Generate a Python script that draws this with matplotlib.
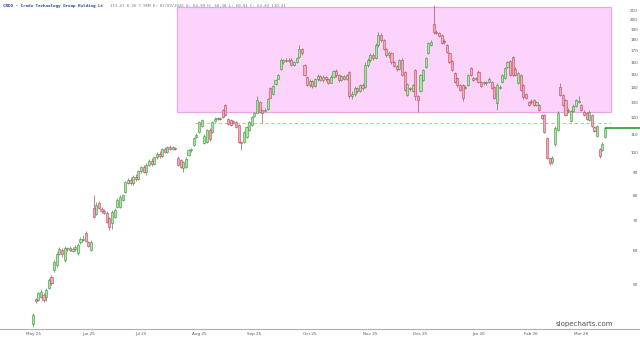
import matplotlib
matplotlib.use("Agg")
import matplotlib.pyplot as plt
from matplotlib.patches import Rectangle
import numpy as np
import pandas as pd

# --- daily OHLC for CRDO ---
start_date = "2025-05-01"
nyse_holidays = ["2025-05-26", "2025-06-19", "2025-07-04", "2025-09-01", "2025-11-27",
                 "2025-12-25", "2026-01-01", "2026-01-19", "2026-02-16"]

opens = [
    40.8, 46.4, 46.2, 47.0, 47.4, 46.9, 49.2, 52.1, 54.0, 55.5,
    58.9, 60.0, 56.9, 60.2, 60.6, 59.8, 60.4, 59.0, 62.5, 63.3,
    65.6, 62.6, 60.0, 74.8, 72.6, 76.7, 74.4, 73.6, 72.8, 71.0,
    69.2, 71.4, 75.1, 75.1, 78.0, 81.3, 85.2, 86.6, 85.0, 88.0,
    87.0, 90.5, 92.4, 90.2, 93.8, 95.5, 94.0, 97.6, 99.0, 98.0,
    101.5, 100.4, 102.8, 102.0, 102.4, 97.1, 96.1, 92.2, 92.6, 98.6,
    101.0, 103.9, 108.6, 111.0, 114.8, 105.0, 105.6, 112.4, 111.2, 117.6,
    119.0, 119.5, 124.8, 128.1, 119.0, 118.4, 117.6, 117.0, 115.4, 105.6,
    105.6, 108.4, 112.4, 115.4, 121.0, 123.0, 130.2, 124.8, 124.2, 125.5,
    140.3, 135.6, 143.0, 147.0, 154.5, 160.0, 162.0, 161.0, 162.4, 158.0,
    160.5, 165.0, 172.0, 157.9, 148.0, 142.2, 145.0, 141.5, 146.5, 149.0,
    146.0, 148.0, 146.5, 144.0, 148.5, 153.0, 149.5, 146.0, 149.0, 147.0,
    152.0, 134.0, 136.0, 140.0, 138.0, 142.0, 141.0, 158.0, 162.0, 166.0,
    164.0, 175.0, 185.0, 180.0, 172.0, 166.0, 168.0, 160.0, 157.0, 155.0,
    162.1, 152.0, 135.0, 140.0, 137.8, 153.8, 134.3, 137.8, 146.0, 156.3,
    168.1, 175.5, 195.6, 188.0, 187.0, 184.7, 179.0, 175.3, 168.2, 161.0,
    151.4, 147.5, 142.2, 142.2, 140.0, 142.2, 155.5, 147.5, 147.0, 152.6,
    144.6, 143.5, 144.2, 144.4, 144.6, 141.0, 129.4, 140.0, 144.6, 147.5,
    156.3, 161.0, 164.4, 155.0, 143.8, 149.9, 142.2, 135.7, 130.2, 130.8,
    131.5, 128.1, 128.1, 121.6, 121.6, 107.8, 97.1, 95.0, 104.5, 112.4,
    141.0, 135.0, 131.5, 124.0, 117.8, 124.0, 127.4, 130.2, 128.1, 123.6,
    122.9, 118.4, 121.6, 114.2, 109.0, 101.8, 101.2, 108.4,
]
highs = [
    43.2, 46.8, 48.3, 48.9, 47.9, 49.2, 51.8, 52.6, 57.0, 59.5,
    61.0, 60.6, 61.2, 61.0, 61.3, 61.0, 61.5, 62.2, 64.2, 64.8,
    66.2, 63.0, 63.2, 80.0, 77.0, 77.5, 75.2, 74.2, 73.4, 71.4,
    73.8, 74.6, 78.6, 79.8, 80.6, 86.2, 87.4, 87.8, 88.6, 89.5,
    91.2, 93.2, 93.6, 94.5, 96.4, 97.0, 98.2, 100.0, 100.5, 102.4,
    102.8, 103.5, 104.0, 103.4, 103.0, 98.0, 96.8, 95.8, 97.5, 101.8,
    102.4, 108.6, 110.4, 118.0, 119.0, 110.0, 113.0, 113.6, 118.0, 120.0,
    120.4, 120.6, 125.5, 129.0, 119.5, 118.9, 118.2, 117.6, 116.2, 106.2,
    112.0, 115.0, 118.0, 120.8, 123.6, 134.0, 131.0, 125.5, 125.8, 133.0,
    141.0, 142.5, 147.0, 151.0, 163.5, 163.2, 163.5, 163.5, 163.4, 161.5,
    165.0, 175.0, 173.0, 159.0, 149.0, 146.5, 146.0, 147.5, 150.5, 150.0,
    149.5, 149.0, 147.5, 149.5, 154.0, 154.5, 150.5, 150.0, 150.0, 151.0,
    153.0, 138.0, 141.5, 141.0, 143.0, 143.5, 160.0, 164.0, 168.0, 168.0,
    177.0, 188.0, 187.0, 181.0, 173.0, 170.0, 169.0, 161.0, 158.0, 163.0,
    163.5, 153.0, 144.0, 141.0, 143.0, 155.0, 135.0, 151.0, 155.0, 165.0,
    178.0, 180.0, 216.0, 189.5, 188.0, 185.5, 180.5, 176.0, 169.0, 162.0,
    152.0, 148.0, 143.0, 143.0, 142.0, 151.0, 156.5, 148.5, 148.5, 153.5,
    145.5, 145.5, 145.0, 148.0, 145.5, 141.8, 143.5, 142.0, 151.0, 156.5,
    161.5, 162.0, 165.5, 156.0, 152.5, 150.8, 143.0, 136.5, 131.0, 132.0,
    132.0, 131.0, 129.0, 122.5, 122.5, 108.5, 97.8, 98.0, 114.5, 124.0,
    144.0, 135.8, 132.2, 126.0, 125.0, 128.5, 132.5, 134.0, 129.0, 124.5,
    123.8, 124.5, 122.5, 115.0, 115.5, 102.5, 105.5, 114.0,
]
lows = [
    40.1, 45.6, 45.9, 46.6, 45.7, 46.0, 48.9, 50.0, 53.5, 55.0,
    58.5, 58.0, 56.5, 59.6, 59.6, 59.3, 59.8, 58.6, 62.0, 63.0,
    62.6, 61.0, 59.6, 70.8, 72.0, 74.2, 73.0, 72.3, 69.0, 66.7,
    67.0, 70.8, 74.6, 74.6, 77.5, 80.9, 84.7, 84.2, 84.5, 86.2,
    86.6, 89.8, 89.6, 89.0, 93.0, 93.2, 93.5, 96.8, 97.2, 97.6,
    99.8, 99.9, 101.0, 101.4, 101.0, 93.0, 92.0, 90.4, 92.0, 98.0,
    100.4, 103.4, 108.0, 110.4, 114.2, 104.3, 105.0, 106.2, 110.5, 117.0,
    118.2, 118.4, 119.5, 121.0, 115.6, 114.8, 116.2, 113.8, 105.0, 101.2,
    105.0, 108.0, 112.0, 115.0, 120.4, 122.6, 123.0, 116.8, 123.6, 125.0,
    132.6, 135.0, 142.5, 146.5, 153.5, 159.0, 160.0, 160.4, 157.4, 157.0,
    159.5, 164.0, 166.5, 149.0, 141.5, 140.5, 140.0, 140.8, 145.5, 145.0,
    144.8, 145.5, 143.0, 143.5, 147.8, 148.5, 144.5, 145.0, 146.0, 146.0,
    133.0, 132.5, 134.5, 136.5, 137.0, 138.5, 140.0, 156.5, 160.5, 162.0,
    163.0, 173.5, 178.5, 171.0, 165.0, 164.0, 159.0, 156.0, 153.0, 154.0,
    149.0, 137.5, 134.0, 138.0, 137.0, 131.5, 123.6, 137.0, 145.0, 155.5,
    167.0, 174.0, 186.0, 185.5, 182.5, 176.0, 176.5, 168.0, 159.5, 153.0,
    143.5, 141.0, 137.5, 131.0, 139.0, 141.5, 149.0, 145.0, 146.0, 143.5,
    140.5, 142.5, 142.5, 143.5, 139.5, 132.0, 124.8, 139.0, 143.5, 147.0,
    155.5, 149.0, 149.0, 149.0, 143.0, 137.5, 132.5, 132.0, 127.5, 129.0,
    127.5, 127.5, 124.0, 119.0, 110.5, 96.5, 93.6, 94.0, 103.5, 111.8,
    134.0, 127.5, 120.8, 123.0, 117.0, 123.5, 127.0, 129.5, 124.0, 121.0,
    118.5, 117.8, 114.0, 111.5, 108.5, 97.0, 100.5, 108.0,
]
closes = [
    42.7, 45.9, 47.9, 48.3, 46.2, 48.7, 51.3, 50.5, 56.4, 58.8,
    60.3, 58.8, 60.6, 60.6, 60.0, 60.4, 60.8, 61.6, 63.6, 63.6,
    63.0, 61.4, 62.6, 71.4, 75.9, 74.8, 73.6, 72.8, 69.5, 67.7,
    73.2, 74.0, 78.0, 79.2, 80.0, 85.6, 86.6, 85.0, 88.0, 87.0,
    90.5, 92.4, 90.2, 93.8, 95.5, 94.0, 97.6, 99.0, 98.0, 101.5,
    100.4, 102.8, 101.8, 102.6, 101.6, 93.6, 92.6, 95.1, 96.6, 101.2,
    101.6, 107.8, 109.5, 117.2, 118.4, 109.0, 112.4, 107.3, 117.2, 119.0,
    119.5, 119.0, 120.0, 121.6, 116.2, 115.4, 116.8, 114.2, 105.6, 105.0,
    111.2, 114.2, 117.2, 120.0, 122.6, 131.5, 123.6, 123.0, 125.0, 132.0,
    133.2, 141.5, 145.9, 149.8, 162.0, 162.0, 161.0, 162.4, 158.0, 160.5,
    164.0, 172.0, 168.0, 150.0, 142.2, 145.0, 141.5, 146.5, 149.0, 146.0,
    148.0, 146.5, 144.0, 148.5, 153.0, 149.5, 146.0, 149.0, 147.0, 149.5,
    134.0, 136.0, 140.0, 138.0, 142.0, 140.0, 158.0, 162.0, 166.0, 164.0,
    175.0, 185.0, 180.0, 172.0, 166.0, 168.0, 160.0, 157.0, 155.0, 162.0,
    150.0, 138.6, 143.0, 139.0, 142.2, 134.3, 131.5, 149.9, 153.8, 163.8,
    177.1, 178.0, 188.0, 187.0, 183.5, 177.0, 178.0, 169.0, 160.4, 153.8,
    144.6, 142.2, 138.6, 132.8, 141.0, 149.9, 149.9, 146.0, 147.5, 144.6,
    141.5, 144.2, 143.8, 147.0, 140.3, 133.2, 142.2, 141.0, 149.9, 155.5,
    160.4, 149.9, 149.9, 149.9, 151.4, 138.6, 133.6, 132.8, 128.1, 130.2,
    128.1, 130.0, 124.8, 119.6, 111.2, 97.1, 94.6, 97.1, 113.5, 122.9,
    135.0, 128.1, 121.6, 124.8, 124.2, 127.4, 131.5, 130.8, 124.8, 121.6,
    119.0, 123.6, 114.8, 112.0, 114.8, 98.0, 104.5, 113.4,
]

y_ticks = [50, 60, 70, 80, 90, 100, 110, 120, 130, 140, 150, 160, 170, 180, 190, 200, 210]
last_price = 113.41
zone_low, zone_high = 123.7, 213.8
stop_level = 116.8

title_name = "CRDO - Credo Technology Group Holding Lt"
title_info = "113.41 0.36 7.96M D: 03/09/2026 O: 64.99 H: 66.38 L: 60.01 C: 63.83 110.31"

n = len(closes)
dates = pd.bdate_range(start_date, periods=n, freq="C", holidays=nyse_holidays)
x = np.arange(n)
o = np.array(opens); h = np.array(highs); l = np.array(lows); c = np.array(closes)

fig = plt.figure(figsize=(6.4, 3.4), dpi=100)
ax = fig.add_axes([0, 11 / 340, 1, 329 / 340])

up = c >= o
up_face, up_edge = "#a8e6a0", "#3f8f3f"
dn_face, dn_edge = "#f3a9b6", "#b44a5c"

# wicks
ax.vlines(x[up], l[up], h[up], color=up_edge, linewidth=0.5, zorder=2)
ax.vlines(x[~up], l[~up], h[~up], color=dn_edge, linewidth=0.5, zorder=2)
# bodies
body_lo = np.minimum(o, c)
body_hi = np.maximum(o, c)
ax.bar(x[up], body_hi[up] - body_lo[up], bottom=body_lo[up], width=0.8,
       color=up_face, edgecolor=up_edge, linewidth=0.4, zorder=3)
ax.bar(x[~up], body_hi[~up] - body_lo[~up], bottom=body_lo[~up], width=0.8,
       color=dn_face, edgecolor=dn_edge, linewidth=0.4, zorder=3)

# consolidation zone and levels
px = 2.636  # pixels per candle
zone_left = (177 - 33) / px
zone_right = (611 - 33) / px
ax.add_patch(Rectangle((zone_left, zone_low), zone_right - zone_left, zone_high - zone_low,
                       facecolor="#fbd3fb", edgecolor="#e6a3e6", linewidth=0.8, zorder=1))
ax.hlines(stop_level, (195 - 33) / px, zone_right, colors="#f4a27c", linewidth=0.6,
          linestyles=(0, (4, 3)), zorder=1.5)

ax.set_yscale("log")
ax.set_ylim(39.7, 221.8)
ax.set_xlim(-33 / px, (640 - 33) / px)
ax.hlines(last_price, x[-1], (640 - 33) / px, colors="#2f9a2f", linewidth=1.2, zorder=4)

ax.yaxis.tick_right()
ax.set_yticks(y_ticks)
ax.set_yticklabels([str(v) for v in y_ticks])
ax.yaxis.set_minor_locator(matplotlib.ticker.NullLocator())
ax.tick_params(axis="y", length=0, pad=-1.5, labelsize=3, labelcolor="#555555")
for lab in ax.get_yticklabels():
    lab.set_horizontalalignment("right")

month_start = np.flatnonzero(np.r_[True, dates.month[1:] != dates.month[:-1]])
ax.set_xticks(month_start)
ax.set_xticklabels([dates[i].strftime("%b %y") for i in month_start])
ax.tick_params(axis="x", length=0, pad=2, labelsize=3, labelcolor="#555577")

for side in ["top", "left", "right"]:
    ax.spines[side].set_visible(False)
ax.spines["bottom"].set_color("#b0b0b0")
ax.spines["bottom"].set_linewidth(0.8)

fig.text(0.004, 0.988, title_name, fontsize=3.1, color="#2040a0", family="DejaVu Sans Mono",
         weight="bold", va="top")
fig.text(0.172, 0.988, title_info, fontsize=2.9, color="#777777", family="DejaVu Sans Mono",
         va="top")
fig.text(0.913, 0.047, "slopecharts.com", fontsize=5.0, color="#505050", ha="center", va="center")

fig.savefig("out.png", dpi=100)
